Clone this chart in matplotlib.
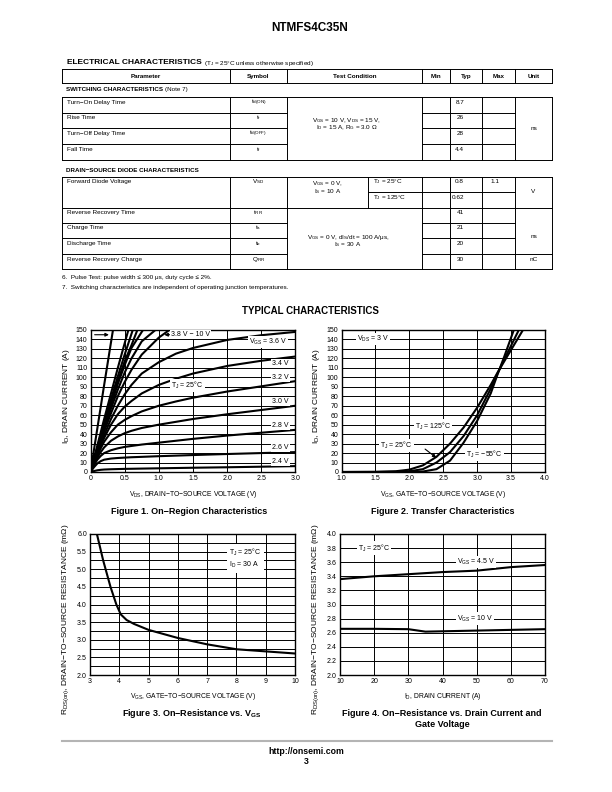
#!/usr/bin/env python3

"""Datasheet page 3 of NTMFS4C35N: electrical characteristics table and typical curves."""

import matplotlib
matplotlib.use('Agg')
import matplotlib.pyplot as plt

plt.rcParams['font.family'] = ['Liberation Sans', 'DejaVu Sans']
plt.rcParams['mathtext.fontset'] = 'custom'
plt.rcParams['mathtext.rm'] = 'Liberation Sans'
plt.rcParams['mathtext.it'] = 'Liberation Sans:italic'
plt.rcParams['mathtext.bf'] = 'Liberation Sans:bold'


def sub(base, s, bold=False):
    if bold:
        return base + r'$_\mathbf{' + s + '}$'
    return base + r'$_\mathregular{' + s + '}$'


# ---- table data ----
header = ['Parameter', 'Symbol', 'Test Condition', 'Min', 'Typ', 'Max', 'Unit']
sw_params = ['Turn\u2212On Delay Time', 'Rise Time', 'Turn\u2212Off Delay Time', 'Fall Time']
sw_symbols = [sub('t', 'd(ON)'), sub('t', 'r'), sub('t', 'd(OFF)'), sub('t', 'f')]
sw_typ = ['8.7', '26', '28', '4.4']
sw_cond = [sub('V', 'GS') + ' = 10 V, ' + sub('V', 'DS') + ' = 15 V,',
           sub('I', 'D') + ' = 15 A, ' + sub('R', 'G') + ' = 3.0 \u03a9']
vsd_cond = [sub('V', 'GS') + ' = 0 V,', sub('I', 'S') + ' = 10 A']
vsd_temps = [sub('T', 'J') + ' = 25\u00b0C', sub('T', 'J') + ' = 125\u00b0C']
vsd_typ = ['0.8', '0.62']
vsd_max = '1.1'
rr_params = ['Reverse Recovery Time', 'Charge Time', 'Discharge Time', 'Reverse Recovery Charge']
rr_symbols = [sub('t', 'RR'), sub('t', 'a'), sub('t', 'b'), sub('Q', 'RR')]
rr_typ = ['41', '21', '20', '30']
rr_cond = [sub('V', 'GS') + ' = 0 V, d' + sub('I', 'S') + '/dt = 100 A/\u03bcs,',
           sub('I', 'S') + ' = 30 A']
notes = ['6.  Pulse Test: pulse width \u2264 300 \u03bcs, duty cycle \u2264 2%.',
         '7.  Switching characteristics are independent of operating junction temperatures.']

# ---- Figure 1: on-region ----
vds = [0, 0.05, 0.1, 0.15, 0.2, 0.3, 0.4, 0.5, 0.6, 0.75, 1.0, 1.25, 1.5, 2.0, 2.5, 3.0]
id_2v4 = [0, 1.0, 1.8, 2.3, 2.6, 2.9, 3.1, 3.3, 3.4, 3.6, 3.9, 4.2, 4.5, 5.0, 5.6, 6.2]
id_2v6 = [0, 5, 9, 11.5, 13, 14.2, 14.8, 15.2, 15.6, 16.0, 16.7, 17.3, 17.9, 19.0, 20.0, 21.0]
id_2v8 = [0, 7, 13, 17, 20, 23, 25, 26.5, 27.5, 29, 31, 33, 35, 38.5, 41.5, 44.5]
id_3v0 = [0, 8, 15, 21, 26, 33, 37.5, 41, 43.5, 46.5, 50, 53, 56, 61, 65.5, 70]
id_3v2 = [0, 9, 17, 25, 32, 42, 50, 55, 59, 64, 70, 74.5, 78.5, 85, 90.5, 96]
id_3v4 = [0, 10, 19, 28, 36, 50, 61, 69, 75, 83, 92, 98.5, 104, 112, 117.5, 122]
id_3v6 = [0, 10.5, 20.5, 30, 39, 56, 70, 82, 92, 104, 116, 125, 131, 139.5, 144.5, 148]
vds_hi = [0, 0.1, 0.2, 0.3, 0.4, 0.5, 0.6, 0.75, 1.0, 1.25]
id_3v8 = [0, 22, 43, 62, 80, 95, 108, 124, 142, 155]
id_4v0 = [0, 23, 45.5, 67, 87, 105, 120, 138, 153, 165]
id_4v5 = [0, 24, 48, 71, 93, 113, 131, 148, 175, 200]
id_5v0 = [0, 24.5, 49, 73, 96, 117, 134, 162, 205, 245]
id_6v0 = [0, 26, 52, 77, 101, 124, 146, 178, 230, 280]
id_8v0 = [0, 28, 56, 83, 110, 136, 162, 200, 260, 320]
id_10v = [0, 46, 92, 137, 182, 227, 272, 340, 450, 560]

# ---- Figure 2: transfer ----
vgs_tr = [1.0, 1.5, 1.8, 2.0, 2.2, 2.4, 2.6, 2.8, 3.0, 3.2, 3.3, 3.4, 3.6, 3.8]
id_125c = [0, 0.2, 0.8, 2.5, 7, 16, 30, 47, 68, 92, 105, 117, 141, 165]
id_25c = [0, 0, 0.2, 0.8, 3, 10, 21, 38, 60, 88, 104, 119, 148, 177]
id_m55c = [0, 0, 0, 0, 0.5, 3, 12, 31, 54, 83, 103, 122, 162, 200]

# ---- Figure 3: RDS(on) vs VGS ----
vgs_r = [3.25, 3.45, 3.7, 3.9, 4.05, 4.25, 4.5, 5.0, 6.0, 7.0, 8.0, 9.0, 10.0]
rds_vgs = [5.95, 5.25, 4.5, 4.0, 3.72, 3.56, 3.45, 3.28, 3.05, 2.87, 2.73, 2.67, 2.61]

# ---- Figure 4: RDS(on) vs ID ----
id_r = [10, 20, 30, 35, 40, 50, 60, 70]
rds_4v5 = [3.36, 3.40, 3.43, 3.445, 3.46, 3.48, 3.53, 3.56]
rds_10v = [2.655, 2.655, 2.65, 2.615, 2.62, 2.63, 2.64, 2.65]

W, H = 612, 792
fig = plt.figure(figsize=(W / 100, H / 100), dpi=100)
page = fig.add_axes([0, 0, 1, 1])
page.set_xlim(0, W)
page.set_ylim(H, 0)
page.axis('off')
renderer = fig.canvas.get_renderer()

TS = 4.6  # table font size


def hline(y, x0, x1, lw=0.7, color='black'):
    page.plot([x0, x1], [y, y], color=color, lw=lw, solid_capstyle='projecting')


def vline(x, y0, y1, lw=0.7):
    page.plot([x, x], [y0, y1], color='black', lw=lw, solid_capstyle='projecting')


def run_on(x, y, parts, **kw):
    """Draw consecutive text pieces [(text, weight, size), ...]."""
    for s, weight, size in parts:
        t = page.text(x, y, s, fontsize=size, weight=weight, va='baseline', ha='left', **kw)
        x = t.get_window_extent(renderer).x1
    return x


# title
page.text(310, 28, 'NTMFS4C35N', ha='center', va='center', fontsize=8.5, weight='bold')

run_on(67, 64.5, [('ELECTRICAL CHARACTERISTICS ', 'bold', 6),
                  ('(T$_\\mathregular{J}$ = 25\u00b0C unless otherwise specified)', 'normal', 4.6)])

cols = [62, 230, 287, 422, 450, 482, 515, 552]
ccen = [(a + b) / 2 for a, b in zip(cols[:-1], cols[1:])]

# header row
top, bot = 69, 83.3
hline(top, cols[0], cols[-1])
hline(bot, cols[0], cols[-1])
for x in cols:
    vline(x, top, bot)
for c, s in zip(ccen, header):
    page.text(c, (top + bot) / 2, s, ha='center', va='center', fontsize=4.5, weight='bold')

# switching characteristics
run_on(66, 91, [('SWITCHING CHARACTERISTICS ', 'bold', 4.5), ('(Note 7)', 'normal', 4.5)])
sw_rows = [97, 112.7, 128.3, 144, 159.5]
for x in cols:
    vline(x, sw_rows[0], sw_rows[-1])
hline(sw_rows[0], cols[0], cols[-1])
hline(sw_rows[-1], cols[0], cols[-1])
for y in sw_rows[1:-1]:
    hline(y, cols[0], cols[2])
    hline(y, cols[3], cols[6])
for i, y in enumerate(sw_rows[:-1]):
    page.text(67, y + 6.6, sw_params[i], fontsize=TS, va='baseline')
    page.text(ccen[1], y + 6.6, sw_symbols[i], fontsize=TS, va='baseline', ha='center')
    page.text(464, y + 6.6, sw_typ[i], fontsize=TS, va='baseline', ha='right')
page.text(347, 121.7, sw_cond[0], fontsize=TS, va='baseline', ha='center')
page.text(347, 129.5, sw_cond[1], fontsize=TS, va='baseline', ha='center')
page.text(ccen[6], 129, 'ns', fontsize=TS, va='center', ha='center')

# drain-source diode characteristics
run_on(66, 171.5, [('DRAIN\u2212SOURCE DIODE CHARACTERISTICS', 'bold', 4.5)])
d_rows = [176.7, 192.3, 207.7, 222.7, 238.3, 254.3, 269.3]
for x in cols:
    vline(x, d_rows[0], d_rows[-1])
vline(368, d_rows[0], d_rows[2])
hline(d_rows[0], cols[0], cols[-1])
hline(d_rows[2], cols[0], cols[-1])
hline(d_rows[-1], cols[0], cols[-1])
hline(d_rows[1], 368, cols[6])
for y in d_rows[3:5]:
    hline(y, cols[0], cols[2])
    hline(y, cols[3], cols[6])
hline(d_rows[5], cols[0], cols[2])
hline(d_rows[5], cols[3], cols[-1])

page.text(67, d_rows[0] + 6.6, 'Forward Diode Voltage', fontsize=TS, va='baseline')
page.text(ccen[1], d_rows[0] + 6.6, sub('V', 'SD'), fontsize=TS, va='baseline', ha='center')
page.text(327.5, 185, vsd_cond[0], fontsize=TS, va='baseline', ha='center')
page.text(327.5, 192.6, vsd_cond[1], fontsize=TS, va='baseline', ha='center')
for i in range(2):
    page.text(373, d_rows[i] + 6.6, vsd_temps[i], fontsize=TS, va='baseline')
    page.text(464, d_rows[i] + 6.6, vsd_typ[i], fontsize=TS, va='baseline', ha='right')
page.text(499, d_rows[0] + 6.6, vsd_max, fontsize=TS, va='baseline', ha='right')
page.text(ccen[6], 191.5, 'V', fontsize=TS, va='center', ha='center')

for i, y in enumerate(d_rows[2:-1]):
    page.text(67, y + 6.6, rr_params[i], fontsize=TS, va='baseline')
    page.text(ccen[1], y + 6.6, rr_symbols[i], fontsize=TS, va='baseline', ha='center')
    page.text(464, y + 6.6, rr_typ[i], fontsize=TS, va='baseline', ha='right')
page.text(348, 238.5, rr_cond[0], fontsize=TS, va='baseline', ha='center')
page.text(348, 246.5, rr_cond[1], fontsize=TS, va='baseline', ha='center')
page.text(ccen[6], 237, 'ns', fontsize=TS, va='center', ha='center')
page.text(ccen[6], d_rows[5] + 6.6, 'nC', fontsize=TS, va='baseline', ha='center')

page.text(62, 279.5, notes[0], fontsize=4.6, va='baseline')
page.text(62, 288.5, notes[1], fontsize=4.6, va='baseline')

page.text(310, 311, 'TYPICAL CHARACTERISTICS', ha='center', va='center', fontsize=7, weight='bold')


# ---- charts ----
def px_axes(l, t, r, b):
    return fig.add_axes([l / W, 1 - b / H, (r - l) / W, (b - t) / H])


def style(ax, xlim, ylim, xt, xl, yt, yl):
    ax.set_xlim(*xlim)
    ax.set_ylim(*ylim)
    ax.set_xticks(xt)
    ax.set_xticklabels(xl)
    ax.set_yticks(yt)
    ax.set_yticklabels(yl)
    ax.tick_params(length=0, pad=2.2, labelsize=5)
    ax.grid(True, color='black', lw=0.7)
    ax.set_axisbelow(True)
    for sp in ax.spines.values():
        sp.set_linewidth(1.0)


def label(ax, x, y, s, ha='center'):
    ax.text(x, y, s, ha=ha, va='center', fontsize=5, zorder=6,
            bbox=dict(boxstyle='square,pad=0.15', fc='white', ec='none'))


CURVE = dict(color='black', lw=1.5, solid_joinstyle='round')

# Figure 1
ax1 = px_axes(90.5, 330, 295.5, 472)
style(ax1, (0, 3.0), (0, 150),
      [0, 0.5, 1.0, 1.5, 2.0, 2.5, 3.0], ['0', '0.5', '1.0', '1.5', '2.0', '2.5', '3.0'],
      list(range(0, 151, 10)), [str(v) for v in range(0, 151, 10)])
for ys in [id_2v4, id_2v6, id_2v8, id_3v0, id_3v2, id_3v4, id_3v6]:
    ax1.plot(vds, ys, **CURVE)
for ys in [id_3v8, id_4v0, id_4v5, id_5v0, id_6v0, id_8v0, id_10v]:
    ax1.plot(vds_hi, ys, **CURVE)
label(ax1, 1.47, 145, '3.8 V \u2212 10 V')
ax1.annotate('', xy=(1.04, 145), xytext=(1.22, 145),
             arrowprops=dict(arrowstyle='-|>', color='black', lw=0.8, mutation_scale=5))
ax1.annotate('', xy=(0.31, 145), xytext=(0.02, 145),
             arrowprops=dict(arrowstyle='-|>', color='black', lw=0.8, mutation_scale=5))
label(ax1, 2.6, 137.5, sub('V', 'GS') + ' = 3.6 V')
label(ax1, 2.78, 114.5, '3.4 V')
label(ax1, 2.78, 100, '3.2 V')
label(ax1, 1.42, 91, sub('T', 'J') + ' = 25\u00b0C')
label(ax1, 2.78, 74.5, '3.0 V')
label(ax1, 2.78, 49.6, '2.8 V')
label(ax1, 2.78, 26, '2.6 V')
label(ax1, 2.78, 11, '2.4 V')

# Figure 2
ax2 = px_axes(341.5, 330, 545, 472)
style(ax2, (1.0, 4.0), (0, 150),
      [1.0, 1.5, 2.0, 2.5, 3.0, 3.5, 4.0], ['1.0', '1.5', '2.0', '2.5', '3.0', '3.5', '4.0'],
      list(range(0, 151, 10)), [str(v) for v in range(0, 151, 10)])
for ys in [id_125c, id_25c, id_m55c]:
    ax2.plot(vgs_tr, ys, **CURVE)
label(ax2, 1.46, 140.5, sub('V', 'DS') + ' = 3 V')
label(ax2, 2.35, 48.5, sub('T', 'J') + ' = 125\u00b0C')
label(ax2, 1.81, 28, sub('T', 'J') + ' = 25\u00b0C')
label(ax2, 3.11, 18.6, sub('T', 'J') + ' = \u221255\u00b0C')
ax2.annotate('', xy=(2.43, 13.3), xytext=(2.2, 26),
             arrowprops=dict(arrowstyle='-|>', color='black', lw=0.8, mutation_scale=5))

# Figure 3
ax3 = px_axes(90, 534, 295, 675)
yt3 = [2.0 + 0.25 * i for i in range(17)]
style(ax3, (3, 10), (2.0, 6.0),
      list(range(3, 11)), [str(v) for v in range(3, 11)],
      yt3, ['%.1f' % v if i % 2 == 0 else '' for i, v in enumerate(yt3)])
ax3.plot(vgs_r, rds_vgs, **CURVE)
ax3.text(7.75, 5.3, sub('T', 'J') + ' = 25\u00b0C\n' + sub('I', 'D') + ' = 30 A',
         ha='left', va='center', fontsize=5, zorder=6, linespacing=1.3,
         bbox=dict(boxstyle='square,pad=0.35', fc='white', ec='none'))

# Figure 4
ax4 = px_axes(340, 534, 545, 675)
yt4 = [2.0 + 0.2 * i for i in range(11)]
style(ax4, (10, 70), (2.0, 4.0),
      list(range(10, 71, 10)), [str(v) for v in range(10, 71, 10)],
      yt4, ['%.1f' % v for v in yt4])
ax4.plot(id_r, rds_4v5, **CURVE)
ax4.plot(id_r, rds_10v, **CURVE)
label(ax4, 20, 3.8, sub('T', 'J') + ' = 25\u00b0C')
label(ax4, 49.8, 3.6, sub('V', 'GS') + ' = 4.5 V')
label(ax4, 49.5, 2.8, sub('V', 'GS') + ' = 10 V')

# axis titles and captions
YL = 6.0
XL = 4.9
CAP = 6.5
page.text(66, 396, sub('I', 'D') + ', DRAIN CURRENT (A)', rotation=90, ha='center', va='center', fontsize=YL)
page.text(316, 396, sub('I', 'D') + ', DRAIN CURRENT (A)', rotation=90, ha='center', va='center', fontsize=YL)
page.text(193, 495, sub('V', 'DS') + ', DRAIN\u2212TO\u2212SOURCE VOLTAGE (V)', ha='center', va='center', fontsize=XL)
page.text(443, 495, sub('V', 'GS') + ', GATE\u2212TO\u2212SOURCE VOLTAGE (V)', ha='center', va='center', fontsize=XL)
page.text(189, 511, 'Figure 1. On\u2212Region Characteristics', ha='center', va='center', fontsize=CAP, weight='bold')
page.text(443, 511, 'Figure 2. Transfer Characteristics', ha='center', va='center', fontsize=CAP, weight='bold')

rlabel = sub('R', 'DS(on)') + ', DRAIN\u2212TO\u2212SOURCE RESISTANCE (m\u03a9)'
page.text(66, 619, rlabel, rotation=90, ha='center', va='center', fontsize=YL)
page.text(316, 619, rlabel, rotation=90, ha='center', va='center', fontsize=YL)
page.text(193, 697, sub('V', 'GS') + ', GATE\u2212TO\u2212SOURCE VOLTAGE (V)', ha='center', va='center', fontsize=XL)
page.text(443, 697, sub('I', 'D') + ', DRAIN CURRENT (A)', ha='center', va='center', fontsize=XL)
page.text(192, 714, 'Figure 3. On\u2212Resistance vs. ' + sub('V', 'GS', bold=True),
          ha='center', va='center', fontsize=CAP, weight='bold')
page.text(442, 713, 'Figure 4. On\u2212Resistance vs. Drain Current and',
          ha='center', va='center', fontsize=CAP, weight='bold')
page.text(442, 724.5, 'Gate Voltage', ha='center', va='center', fontsize=CAP, weight='bold')

# footer
hline(741, 62, 552, lw=1.5, color='#b4b4b4')
page.text(306, 751, 'http://onsemi.com', ha='center', va='center', fontsize=6.3, weight='bold')
page.text(306, 762, '3', ha='center', va='center', fontsize=6.3, weight='bold')

fig.savefig('out.png', dpi=100)
